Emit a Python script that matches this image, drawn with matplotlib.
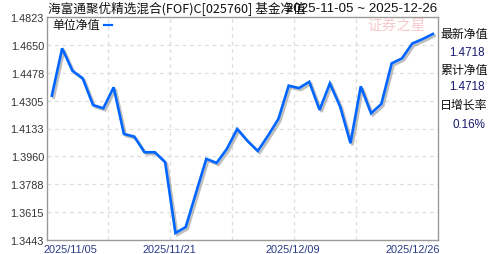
import matplotlib
matplotlib.use("Agg")
import matplotlib.pyplot as plt
import matplotlib.patheffects as pe
import matplotlib.transforms as mtransforms
import numpy as np

plt.rcParams['font.family'] = ['Noto Sans CJK SC', 'DejaVu Sans']

# ---- data ----
dates = ["2025-11-05", "2025-11-06", "2025-11-07", "2025-11-10", "2025-11-11", "2025-11-12",
         "2025-11-13", "2025-11-14", "2025-11-17", "2025-11-18", "2025-11-19", "2025-11-20",
         "2025-11-21", "2025-11-24", "2025-11-25", "2025-11-26", "2025-11-27", "2025-11-28",
         "2025-12-01", "2025-12-02", "2025-12-03", "2025-12-04", "2025-12-05", "2025-12-08",
         "2025-12-09", "2025-12-10", "2025-12-11", "2025-12-12", "2025-12-15", "2025-12-16",
         "2025-12-17", "2025-12-18", "2025-12-19", "2025-12-22", "2025-12-23", "2025-12-24",
         "2025-12-25", "2025-12-26"]
nav = [1.4336, 1.4629, 1.4490, 1.4443, 1.4278, 1.4258, 1.4388, 1.4099, 1.4083, 1.3986,
       1.3986, 1.3925, 1.3486, 1.3523, 1.3735, 1.3945, 1.3920, 1.4007, 1.4130, 1.4056,
       1.3994, 1.4089, 1.4192, 1.4398, 1.4383, 1.4422, 1.4248, 1.4412, 1.4268, 1.4042,
       1.4394, 1.4227, 1.4285, 1.4536, 1.4567, 1.4659, 1.4686, 1.4718]
ytick_vals = [1.3443, 1.3615, 1.3788, 1.3960, 1.4133, 1.4305, 1.4478, 1.4650, 1.4823]
ytick_labels = ["1.3443", "1.3615", "1.3788", "1.3960", "1.4133", "1.4305", "1.4478", "1.4650", "1.4823"]
xlabel_dates = ["2025-11-05", "2025-11-21", "2025-12-09", "2025-12-26"]
xlabel_texts = ["2025/11/05", "2025/11/21", "2025/12/09", "2025/12/26"]
title_text = "海富通聚优精选混合(FOF)C[025760] 基金净值"
range_text = "2025-11-05 ~ 2025-12-26"
legend_text = "单位净值"
side_labels = ["最新净值", "累计净值", "日增长率"]
side_values = ["1.4718", "1.4718", "0.16%"]

# ---- figure ----
W, H = 488, 255
fig = plt.figure(figsize=(W / 100, H / 100), dpi=100)
fig.patch.set_facecolor("white")

def fx(px):
    return px / W

def fy(py):
    return 1 - py / H

ax = fig.add_axes([fx(46.7), fy(241), fx(438) - fx(46.7), fy(18) - fy(241)])
ax.set_facecolor("white")

x = np.arange(len(nav))
ax.plot(x, nav, color="#0066ff", lw=1.9, solid_joinstyle="miter", zorder=3,
        path_effects=[pe.SimpleLineShadow(offset=(1.4, -1.4), shadow_color="#8a8a8a", alpha=0.55),
                      pe.Normal()])

ax.set_xlim(-0.5, len(nav) - 0.5)
ax.set_ylim(ytick_vals[0], ytick_vals[-1])

# grid
for yv in ytick_vals[1:-1]:
    ax.axhline(yv, color="#dddddd", lw=0.9, ls=(0, (3, 3)), zorder=1)
for xv in np.arange(5.5, 30, 6):
    ax.axvline(xv, color="#dddddd", lw=0.9, ls=(0, (3, 3)), zorder=1)

for s in ax.spines.values():
    s.set_color("#999999")
    s.set_linewidth(1.0)

ax.set_yticks(ytick_vals)
ax.set_yticklabels(ytick_labels, fontsize=7.8, color="#333333", family="Liberation Sans")
ax.tick_params(axis="y", length=0, pad=2)

xpos = [dates.index(d) for d in xlabel_dates]
ax.set_xticks(xpos)
ax.set_xticklabels(xlabel_texts, fontsize=7.9, color="#2a3a88", family="Liberation Sans")
ax.tick_params(axis="x", length=0, pad=3)
labels = ax.get_xticklabels()
offsets = [-8, -6, -6, 7]
aligns = ["left", "center", "center", "right"]
for lab, off, ha in zip(labels, offsets, aligns):
    lab.set_ha(ha)
    lab.set_transform(lab.get_transform() + mtransforms.ScaledTranslation(off / 100, 0, fig.dpi_scale_trans))

# title + date range
fig.text(fx(47.5), fy(8.5), title_text, fontsize=9.1, color="#111111", ha="left", va="center")
fig.text(fx(437), fy(8.5), range_text, fontsize=9.6, color="#111111", ha="right", va="center",
         family="Liberation Sans")

# legend
fig.text(fx(52), fy(26), legend_text, fontsize=8.6, color="#111111", ha="left", va="center")
fig.add_artist(plt.Line2D([fx(104.3), fx(111.7)], [fy(25.8), fy(25.8)], color="#0066ff", lw=1.6))

# watermark
fig.text(fx(397), fy(25.5), "证券之星", fontsize=10.5, color="#f6c4c8", ha="center", va="center",
         alpha=0.9)

# side panel
label_y = [35, 70.5, 105]
value_y = [53, 87, 125]
for lab, val, ly, vy in zip(side_labels, side_values, label_y, value_y):
    fig.text(fx(440), fy(ly), lab, fontsize=8.6, color="#111111", ha="left", va="center")
    fig.text(fx(485), fy(vy), val, fontsize=8.4, color="#1a1a70", ha="right", va="center",
             family="Liberation Sans")

fig.savefig("out.png", dpi=100, facecolor="white")
